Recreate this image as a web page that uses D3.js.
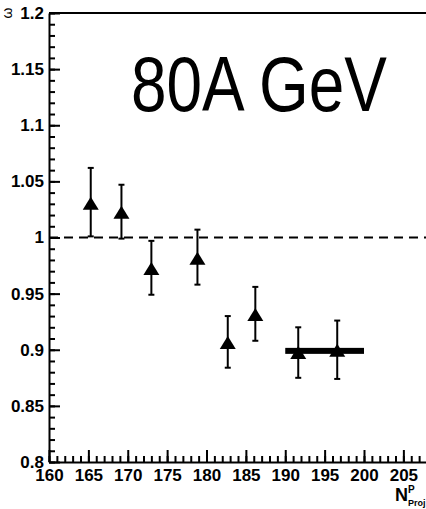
<!DOCTYPE html>
<html>
<head>
<meta charset="utf-8">
<script src="https://cdn.jsdelivr.net/npm/d3@7"></script>
<style>
  body { margin: 0; background: #fff; }
  svg { display: block; }
</style>
</head>
<body>
<div id="chart"></div>
<script>
let nProj    = [165.3, 169.2, 173.0, 178.85, 182.7, 186.2, 191.65, 196.6];
let ratio    = [1.030, 1.022, 0.972, 0.981, 0.906, 0.931, 0.897, 0.899];
let errUpper = [1.062, 1.047, 0.997, 1.007, 0.930, 0.956, 0.920, 0.926];
let errLower = [1.001, 0.999, 0.949, 0.958, 0.884, 0.908, 0.875, 0.874];

// thick horizontal band (range and level)
let bandRange = [190, 200];
let bandLevel = 0.899;

let reference = 1.0;

let xTicks = [160, 165, 170, 175, 180, 185, 190, 195, 200, 205];
let yTicks = [0.8, 0.85, 0.9, 0.95, 1, 1.05, 1.1, 1.15, 1.2];

let width  = 426,
    height = 509;

let fontFamily = "'Liberation Sans', Arial, sans-serif";

let svg = d3.select("#chart")
  .append("svg")
    .attr("width", width)
    .attr("height", height);

let x = d3.scaleLinear()
  .domain([160, 208])
  .range([49, 427]);

let y = d3.scaleLinear()
  .domain([0.8, 1.2])
  .range([462, 13]);

function styleLabels(g) {
  g.selectAll("text")
    .style("font-family", fontFamily)
    .style("font-weight", "bold")
    .style("font-size", "17px")
    .attr("fill", "#000");
  g.selectAll("line, path").attr("stroke-width", 2);
}

// minor ticks
svg.append("g")
    .attr("transform", translate(49, 0))
  .call(d3.axisLeft(y).tickValues(d3.range(80, 121).map(d => d / 100))
          .tickSize(-6).tickSizeOuter(0).tickFormat(""))
  .call(g => g.select(".domain").remove())
  .selectAll("line").attr("stroke-width", 2);

svg.append("g")
    .attr("transform", translate(0, 462))
  .call(d3.axisBottom(x).tickValues(d3.range(160, 209))
          .tickSize(-6).tickSizeOuter(0).tickFormat(""))
  .call(g => g.select(".domain").remove())
  .selectAll("line").attr("stroke-width", 2);

// major ticks + labels
svg.append("g")
    .attr("transform", translate(49, 0))
  .call(d3.axisLeft(y).tickValues(yTicks).tickSize(-11).tickSizeOuter(0)
          .tickPadding(5).tickFormat(d3.format("~g")))
  .call(styleLabels);

svg.append("g")
    .attr("transform", translate(0, 462))
  .call(d3.axisBottom(x).tickValues(xTicks).tickSize(-12).tickSizeOuter(0)
          .tickPadding(7))
  .call(styleLabels);

// top frame
svg.append("line")
    .attr("x1", x(160)).attr("x2", width)
    .attr("y1", y(1.2)).attr("y2", y(1.2))
    .attr("stroke", "#000")
    .attr("stroke-width", 2);

// dashed reference
svg.append("line")
    .attr("x1", x(160)).attr("x2", width)
    .attr("y1", y(reference)).attr("y2", y(reference))
    .attr("stroke", "#000")
    .attr("stroke-width", 2)
    .attr("stroke-dasharray", "9,6");

// band
svg.append("rect")
    .attr("x", x(bandRange[0]))
    .attr("width", x(bandRange[1]) - x(bandRange[0]))
    .attr("y", y(bandLevel) - 3)
    .attr("height", 6)
    .attr("fill", "#000");

let points = nProj.map((n, i) => ({ n: n, v: ratio[i], hi: errUpper[i], lo: errLower[i] }));

let pt = svg.selectAll(".pt")
    .data(points)
  .enter().append("g")
    .attr("class", "pt");

pt.append("line")
    .attr("x1", d => x(d.n)).attr("x2", d => x(d.n))
    .attr("y1", d => y(d.hi)).attr("y2", d => y(d.lo))
    .attr("stroke", "#000").attr("stroke-width", 2);

pt.selectAll(".cap")
    .data(d => [{ n: d.n, v: d.hi }, { n: d.n, v: d.lo }])
  .enter().append("line")
    .attr("x1", d => x(d.n) - 3).attr("x2", d => x(d.n) + 3)
    .attr("y1", d => y(d.v)).attr("y2", d => y(d.v))
    .attr("stroke", "#000").attr("stroke-width", 2);

pt.append("path")
    .attr("transform", d => translate(x(d.n), y(d.v)))
    .attr("d", "M0,-7L8,6L-8,6Z")
    .attr("fill", "#000");

// energy label (horizontally squeezed like the original canvas)
svg.append("text")
    .attr("transform", translate(131, 111) + " scale(0.83,1)")
    .style("font-family", fontFamily)
    .style("font-size", "77px")
    .text("80A GeV");

// x axis title
let xt = svg.append("text")
    .style("font-family", fontFamily)
    .style("font-weight", "bold");
xt.append("tspan").attr("x", 395).attr("y", 501).style("font-size", "18px").text("N");
xt.append("tspan").attr("x", 408).attr("y", 493).style("font-size", "10px").text("P");
xt.append("tspan").attr("x", 408).attr("y", 506).style("font-size", "9px").text("Proj");

// y axis title (sits in the corner)
svg.append("text")
    .attr("transform", translate(12, 13) + " rotate(-90)")
    .attr("text-anchor", "middle")
    .style("font-family", fontFamily)
    .style("font-size", "14px")
    .text("ω");

function translate(x, y = 0) {
  return "translate({x}, {y})"
          .replace("{x}", x)
          .replace("{y}", y);
}
</script>
</body>
</html>
